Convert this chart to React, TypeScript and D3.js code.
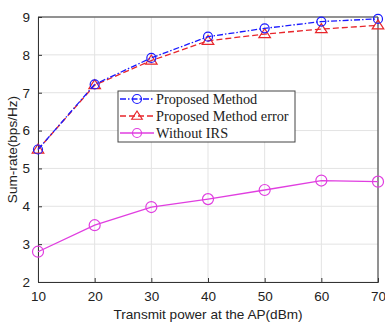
import { useEffect, useRef } from 'react';
import * as d3 from 'd3';

const powers = [10, 20, 30, 40, 50, 60, 70];
const proposed = [5.5, 7.22, 7.92, 8.48, 8.7, 8.88, 8.95];
const proposedError = [5.5, 7.2, 7.85, 8.37, 8.55, 8.68, 8.78];
const withoutIrs = [2.8, 3.5, 3.98, 4.19, 4.43, 4.68, 4.65];
const yTicks = [2, 3, 4, 5, 6, 7, 8, 9];

const legendLabels = ['Proposed Method', 'Proposed Method error', 'Without IRS'];

export default function App() {
  const svgRef = useRef<SVGSVGElement>(null);

  useEffect(() => {
    if (!svgRef.current) return;
    const root = d3.select(svgRef.current);
    root.selectAll('*').remove();

    const width = 385;
    const height = 323;
    const margin = { top: 17, right: 7, bottom: 41, left: 38 };
    const innerWidth = width - margin.left - margin.right;
    const innerHeight = height - margin.top - margin.bottom;

    root.attr('width', width).attr('height', height);
    root.append('rect').attr('width', width).attr('height', height).attr('fill', '#fff');

    const svg = root.append('g').attr('transform', `translate(${margin.left},${margin.top})`);

    const x = d3.scaleLinear().domain([10, 70]).range([0, innerWidth]);
    const y = d3.scaleLinear().domain([2, 9]).range([innerHeight, 0]);

    // Grid
    svg.append('g')
      .selectAll('line.vx')
      .data(powers)
      .enter()
      .append('line')
      .attr('x1', d => x(d))
      .attr('x2', d => x(d))
      .attr('y1', 0)
      .attr('y2', innerHeight)
      .attr('stroke', '#e3e3e3')
      .attr('stroke-width', 1);

    svg.append('g')
      .selectAll('line.hy')
      .data(yTicks)
      .enter()
      .append('line')
      .attr('x1', 0)
      .attr('x2', innerWidth)
      .attr('y1', d => y(d))
      .attr('y2', d => y(d))
      .attr('stroke', '#e3e3e3')
      .attr('stroke-width', 1);

    // Axes
    const xAxis = svg.append('g')
      .attr('transform', `translate(0,${innerHeight})`)
      .call(d3.axisBottom(x).tickValues(powers).tickSize(-4).tickPadding(9).tickFormat(d3.format('d')));
    const yAxis = svg.append('g')
      .call(d3.axisLeft(y).tickValues(yTicks).tickSize(-4).tickPadding(8).tickFormat(d3.format('d')));

    [xAxis, yAxis].forEach(a => {
      a.select('.domain').attr('stroke', '#333');
      a.selectAll('.tick line').attr('stroke', '#333');
      a.selectAll('text')
        .attr('fill', '#222')
        .attr('font-size', '13.5px')
        .attr('font-family', 'Liberation Sans, Arial, sans-serif');
    });

    // box top/right
    svg.append('line').attr('x1', 0).attr('x2', innerWidth).attr('y1', 0).attr('y2', 0).attr('stroke', '#333');
    svg.append('line').attr('x1', innerWidth).attr('x2', innerWidth).attr('y1', 0).attr('y2', innerHeight).attr('stroke', '#333');

    const series = [
      { values: proposed, color: '#1a1aff', dash: '6,2,1.5,2', marker: 'circle', r: 4.5 },
      { values: proposedError, color: '#e8262b', dash: '6,3', marker: 'triangle', r: 5.5 },
      { values: withoutIrs, color: '#e03ee0', dash: null, marker: 'circle', r: 5.5 },
    ];

    const line = d3.line<number>()
      .x((_, i) => x(powers[i]))
      .y(d => y(d));

    const triangle = (s: number) => `M0,${-s}L${s * 1.05},${s * 0.65}L${-s * 1.05},${s * 0.65}Z`;

    const drawMarker = (g: any, cx: number, cy: number, s: typeof series[number]) => {
      if (s.marker === 'circle') {
        g.append('circle').attr('cx', cx).attr('cy', cy).attr('r', s.r)
          .attr('fill', 'none').attr('stroke', s.color).attr('stroke-width', 1.2);
      } else {
        g.append('path').attr('d', triangle(s.r)).attr('transform', `translate(${cx},${cy})`)
          .attr('fill', 'none').attr('stroke', s.color).attr('stroke-width', 1.2);
      }
    };

    const plot = svg.append('g');
    // draw in reverse so blue sits on top
    [...series].reverse().forEach(s => {
      plot.append('path')
        .datum(s.values)
        .attr('fill', 'none')
        .attr('stroke', s.color)
        .attr('stroke-width', 1.3)
        .attr('stroke-dasharray', s.dash ?? null)
        .attr('d', line);
      const mg = plot.append('g');
      s.values.forEach((v, i) => drawMarker(mg, x(powers[i]), y(v), s));
    });

    // Legend
    const lg = svg.append('g').attr('transform', `translate(${118 - margin.left},${91 - margin.top})`);
    lg.append('rect').attr('width', 177).attr('height', 51).attr('fill', '#fff').attr('stroke', '#444').attr('stroke-width', 1);
    series.forEach((s, i) => {
      const yy = 8 + i * 17;
      lg.append('line').attr('x1', 2).attr('x2', 36).attr('y1', yy).attr('y2', yy)
        .attr('stroke', s.color).attr('stroke-width', 1.3).attr('stroke-dasharray', s.dash ?? null);
      drawMarker(lg, 19, yy, { ...s, r: s.marker === 'circle' ? 4.5 : 5 });
      lg.append('text')
        .attr('x', 38)
        .attr('y', yy + 5)
        .attr('font-family', 'Liberation Serif, Times New Roman, serif')
        .attr('font-size', '14.3px')
        .attr('fill', '#222')
        .text(legendLabels[i]);
    });

    // Axis labels
    svg.append('text')
      .attr('x', innerWidth / 2)
      .attr('y', innerHeight + 37)
      .attr('text-anchor', 'middle')
      .attr('font-family', 'Liberation Sans, Arial, sans-serif')
      .attr('font-size', '13.6px')
      .attr('fill', '#222')
      .text('Transmit power at the AP(dBm)');

    svg.append('text')
      .attr('transform', 'rotate(-90)')
      .attr('x', -innerHeight / 2)
      .attr('y', -21)
      .attr('text-anchor', 'middle')
      .attr('font-family', 'Liberation Sans, Arial, sans-serif')
      .attr('font-size', '13.6px')
      .attr('fill', '#222')
      .text('Sum-rate(bps/Hz)');
  }, []);

  return (
    <div style={{ position: 'absolute', left: 0, top: 0 }}>
      <svg ref={svgRef} style={{ display: 'block' }} />
    </div>
  );
}
